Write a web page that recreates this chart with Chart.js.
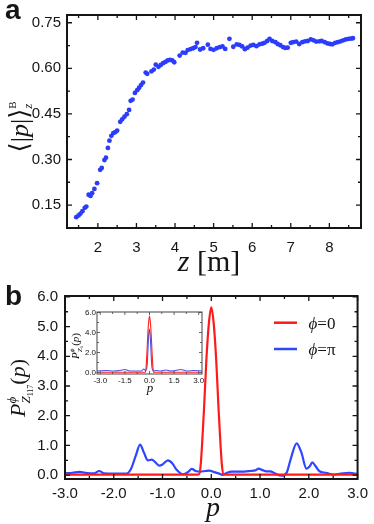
<!DOCTYPE html>
<html>
<head>
<meta charset="utf-8">
<script src="https://cdn.jsdelivr.net/npm/chart.js@4.4.1/dist/chart.umd.min.js"></script>
<style>
  html, body { margin: 0; padding: 0; background: #fff; }
  #wrap { position: relative; width: 374px; height: 524px; overflow: hidden; }
  canvas { position: absolute; }
</style>
</head>
<body>
<div id="wrap">
  <canvas id="chartA" width="374" height="290" style="left:0;top:0"></canvas>
  <canvas id="chartB" width="374" height="254" style="left:0;top:270px"></canvas>
  <canvas id="chartInset" width="150" height="100" style="left:60px;top:300px"></canvas>
</div>
<script>
// panel a : <|p|>_z^B against z [m]
const zA = [1.44, 1.50, 1.55, 1.60, 1.66, 1.70, 1.76, 1.81, 1.85, 1.91,
            1.98, 2.06, 2.10, 2.17, 2.21, 2.26, 2.30, 2.35, 2.40, 2.45,
            2.50, 2.58, 2.63, 2.69, 2.75, 2.81, 2.85, 2.90, 2.96, 3.02,
            3.07, 3.12, 3.17, 3.24, 3.28, 3.39, 3.45, 3.50, 3.57, 3.63,
            3.69, 3.75, 3.81, 3.87, 3.93, 3.98, 4.12, 4.20, 4.27, 4.33,
            4.40, 4.47, 4.53, 4.57, 4.65, 4.73, 4.85, 4.92, 5.00, 5.08,
            5.16, 5.23, 5.30, 5.41, 5.51, 5.60, 5.67, 5.74, 5.81, 5.88,
            5.96, 6.03, 6.11, 6.19, 6.26, 6.32, 6.39, 6.45, 6.52, 6.60,
            6.66, 6.73, 6.80, 6.86, 6.92, 7.00, 7.06, 7.14, 7.22, 7.30,
            7.37, 7.44, 7.52, 7.59, 7.66, 7.74, 7.80, 7.88, 7.95, 8.02,
            8.08, 8.15, 8.22, 8.29, 8.36, 8.43, 8.50, 8.56, 8.61];
const pA = [0.110, 0.116, 0.122, 0.130, 0.141, 0.145, 0.184, 0.180, 0.189, 0.203,
            0.222, 0.266, 0.272, 0.298, 0.306, 0.338, 0.362, 0.378, 0.387, 0.390,
            0.395, 0.424, 0.432, 0.441, 0.449, 0.463, 0.493, 0.497, 0.519, 0.528,
            0.536, 0.545, 0.553, 0.586, 0.582, 0.590, 0.596, 0.612, 0.605, 0.611,
            0.617, 0.621, 0.626, 0.628, 0.626, 0.620, 0.642, 0.652, 0.651, 0.660,
            0.663, 0.666, 0.670, 0.684, 0.662, 0.666, 0.678, 0.664, 0.661, 0.666,
            0.670, 0.672, 0.664, 0.697, 0.671, 0.679, 0.677, 0.672, 0.663, 0.668,
            0.675, 0.677, 0.673, 0.679, 0.681, 0.684, 0.690, 0.697, 0.690, 0.686,
            0.680, 0.676, 0.670, 0.667, 0.668, 0.684, 0.686, 0.688, 0.680, 0.686,
            0.689, 0.690, 0.695, 0.692, 0.688, 0.689, 0.690, 0.686, 0.682, 0.680,
            0.679, 0.684, 0.686, 0.689, 0.692, 0.695, 0.697, 0.698, 0.699];
const zTicks = [2, 3, 4, 5, 6, 7, 8];
const zMinor = [1.5, 2.5, 3.5, 4.5, 5.5, 6.5, 7.5, 8.5];
const pTicksA = [0.15, 0.30, 0.45, 0.60, 0.75];
const pMinorA = [0.225, 0.375, 0.525, 0.675];

// panel b : P(p) for phi = 0 (red) and phi = pi (blue)
const pRed = [-3.0, -0.3, -0.25, -0.22, -0.19, -0.15, -0.1, -0.05, 0, 0.05, 0.1, 0.15, 0.19, 0.22, 0.25, 0.3, 3.0];
const red  = [0.02, 0.02, 0.03, 0.3, 1.0, 2.2, 3.9, 5.1, 5.65, 5.1, 3.9, 2.2, 1.0, 0.3, 0.03, 0.02, 0.02];
const pBlue = [-3.0, -2.85, -2.7, -2.55, -2.4, -2.3, -2.2, -2.0, -1.75, -1.65,
               -1.55, -1.46, -1.38, -1.3, -1.22, -1.15, -1.07, -1.0, -0.89, -0.8,
               -0.72, -0.58, -0.48, -0.4, -0.32, -0.22, -0.12, -0.04, 0.06, 0.15,
               0.23, 0.32, 0.42, 0.55, 0.68, 0.8, 0.9, 0.97, 1.05, 1.13,
               1.21, 1.3, 1.44, 1.55, 1.63, 1.75, 1.85, 1.95, 2.02, 2.07,
               2.14, 2.22, 2.35, 2.5, 2.65, 2.82, 2.92, 3.0];
const blue = [0.06, 0.08, 0.11, 0.07, 0.06, 0.14, 0.06, 0.05, 0.05, 0.2,
              0.65, 1.03, 0.75, 0.5, 0.52, 0.44, 0.32, 0.36, 0.5, 0.4,
              0.2, 0.03, 0.1, 0.21, 0.14, 0.12, 0.14, 0.15, 0.1, 0.06,
              0.01, 0.08, 0.12, 0.12, 0.12, 0.14, 0.16, 0.22, 0.17, 0.13,
              0.13, 0.06, -0.02, 0.1, 0.55, 1.07, 0.75, 0.22, 0.3, 0.43,
              0.3, 0.13, 0.08, 0.02, 0.05, 0.08, 0.06, 0.04];
const pTicksB = [-3, -2, -1, 0, 1, 2, 3];
const pMinorB = [-2.5, -1.5, -0.5, 0.5, 1.5, 2.5];
const probTicks = [0, 1, 2, 3, 4, 5, 6];
const probMinor = [0.5, 1.5, 2.5, 3.5, 4.5, 5.5];

// inset (red curve is the same as the main one)
const pInset = [-3.2, -2.6, -2.2, -1.8, -1.5, -1.2, -0.8, -0.5, -0.35, -0.25, -0.15, -0.1, -0.05, 0.0,
                0.05, 0.1, 0.15, 0.25, 0.4, 0.7, 1.0, 1.3, 1.6, 1.9, 2.3, 2.7, 3.2];
const insetBlue = [0.15, 0.2, 0.15, 0.2, 0.3, 0.15, 0.15, 0.15, 0.35, 0.2, 0.6, 2.0, 3.8, 4.35,
                   3.5, 1.8, 0.5, 0.15, 0.2, 0.15, 0.25, 0.15, 0.2, 0.3, 0.15, 0.2, 0.15];
const insetXTicks = [-3, -1.5, 0, 1.5, 3];
const insetXMinor = [-2.25, -0.75, 0.75, 2.25];
const insetYTicks = [0, 2, 4, 6];
const insetYMinor = [1, 3, 5];

const SANS = '"Liberation Sans", Arial, Helvetica, sans-serif';
const SERIF = '"Liberation Serif", "Times New Roman", "DejaVu Serif", serif';
const INK = '#151515';
const PHI = '\u03D5';

Chart.defaults.animation = false;
Chart.defaults.devicePixelRatio = 1;
Chart.defaults.plugins.legend.display = false;
Chart.defaults.plugins.tooltip.enabled = false;

const pts = (xs, ys) => xs.map((x, i) => ({ x: x, y: ys[i] }));

// inward ticks on all four sides + box
function makeFrame(cfg) {
  return {
    id: 'frame',
    afterDatasetsDraw(chart) {
      const { ctx, chartArea: a } = chart;
      const sx = chart.scales.x, sy = chart.scales.y;
      ctx.save();
      ctx.strokeStyle = cfg.color || INK;
      ctx.lineWidth = cfg.tickWidth;
      ctx.beginPath();
      const tx = (vals, len) => vals.forEach(v => {
        const px = sx.getPixelForValue(v);
        ctx.moveTo(px, a.bottom); ctx.lineTo(px, a.bottom - len);
        ctx.moveTo(px, a.top); ctx.lineTo(px, a.top + len);
      });
      const ty = (vals, len) => vals.forEach(v => {
        const py = sy.getPixelForValue(v);
        ctx.moveTo(a.left, py); ctx.lineTo(a.left + len, py);
        ctx.moveTo(a.right, py); ctx.lineTo(a.right - len, py);
      });
      tx(cfg.xMajor, cfg.major); tx(cfg.xMinor, cfg.minor);
      ty(cfg.yMajor, cfg.major); ty(cfg.yMinor, cfg.minor);
      ctx.stroke();
      ctx.lineWidth = cfg.lineWidth;
      ctx.strokeRect(a.left, a.top, a.right - a.left, a.bottom - a.top);
      ctx.restore();
    }
  };
}

// text made of pieces with their own font and baseline shift
function rich(ctx, x, y, parts, rot) {
  ctx.save();
  ctx.translate(x, y);
  if (rot) ctx.rotate(-Math.PI / 2);
  ctx.textBaseline = 'alphabetic';
  ctx.textAlign = 'left';
  ctx.fillStyle = INK;
  let w = 0;
  parts.forEach(p => { ctx.font = p.f; p.w = ctx.measureText(p.t).width; w += (p.adv === undefined ? p.w : p.adv); });
  let cx = -w / 2;
  parts.forEach(p => {
    ctx.font = p.f;
    ctx.fillText(p.t, cx, -(p.dy || 0));
    cx += (p.adv === undefined ? p.w : p.adv);
  });
  ctx.restore();
}

function axis(min, max, ticks, fmt, font, pad, fit) {
  return {
    type: 'linear', min: min, max: max,
    grid: { display: false, drawTicks: false },
    border: { display: false },
    ticks: { font: font, color: INK, padding: pad, callback: fmt },
    afterBuildTicks: s => { s.ticks = ticks.map(v => ({ value: v })); },
    afterFit: fit
  };
}

// ---------- panel a ----------
new Chart(document.getElementById('chartA'), {
  type: 'scatter',
  data: {
    datasets: [{
      data: pts(zA, pA),
      pointRadius: 2.4,
      pointBackgroundColor: '#2b3cfb',
      pointBorderWidth: 0
    }]
  },
  options: {
    responsive: false,
    layout: { padding: { top: 7, right: 13, left: 0, bottom: 0 } },
    scales: {
      x: axis(1.2, 8.82, zTicks, v => String(v), { family: SANS, size: 15 }, 11, s => { s.height = 62; }),
      y: axis(0.0745, 0.7755, pTicksA, v => v.toFixed(2), { family: SANS, size: 15 }, 6, s => { s.width = 67; })
    }
  },
  plugins: [
    makeFrame({ xMajor: zTicks, xMinor: zMinor, yMajor: pTicksA, yMinor: pMinorA, major: 5, minor: 3, tickWidth: 1.3, lineWidth: 2 }),
    {
      id: 'labelsA',
      afterDraw(chart) {
        const ctx = chart.ctx;
        ctx.save();
        ctx.fillStyle = INK;
        ctx.font = 'bold 28px ' + SANS;
        ctx.fillText('a', 5, 19);
        ctx.restore();
        rich(ctx, 28, 128, [
          { t: '\u27E8|', f: '26px ' + SERIF },
          { t: 'p', f: 'italic 26px ' + SERIF },
          { t: '|\u27E9', f: '26px ' + SERIF },
          { t: 'B', f: '11px ' + SERIF, dy: 12, adv: 0 },
          { t: 'z', f: 'italic 13px ' + SERIF, dy: -4 }
        ], true);
        rich(ctx, 209, 271, [
          { t: 'z', f: 'italic 30px ' + SERIF },
          { t: ' [m]', f: '30px ' + SERIF }
        ], false);
      }
    }
  ]
});

// ---------- panel b ----------
new Chart(document.getElementById('chartB'), {
  type: 'line',
  data: {
    datasets: [
      { data: pts(pRed, red), borderColor: '#ff1a1a', borderWidth: 2.2, pointRadius: 0, cubicInterpolationMode: 'monotone' },
      { data: pts(pBlue, blue), borderColor: '#2d46ff', borderWidth: 2.2, pointRadius: 0, cubicInterpolationMode: 'monotone' }
    ]
  },
  options: {
    responsive: false,
    layout: { padding: { top: 26, right: 12, left: 0, bottom: 0 } },
    scales: {
      x: axis(-3, 3, pTicksB, v => v.toFixed(1), { family: SANS, size: 15 }, 6, s => { s.height = 45; }),
      y: axis(-0.13, 6.03, probTicks, v => v.toFixed(1), { family: SANS, size: 15 }, 7, s => { s.width = 65; })
    }
  },
  plugins: [
    makeFrame({ xMajor: pTicksB, xMinor: pMinorB, yMajor: probTicks, yMinor: probMinor, major: 5, minor: 3, tickWidth: 1.3, lineWidth: 2 }),
    {
      id: 'labelsB',
      afterDraw(chart) {
        const ctx = chart.ctx;
        ctx.save();
        ctx.fillStyle = INK;
        ctx.font = 'bold 28px ' + SANS;
        ctx.fillText('b', 5, 35);
        // legend
        ctx.lineWidth = 2.5;
        ctx.strokeStyle = '#ff1a1a';
        ctx.beginPath(); ctx.moveTo(274, 52.7); ctx.lineTo(297, 52.7); ctx.stroke();
        ctx.strokeStyle = '#2d46ff';
        ctx.beginPath(); ctx.moveTo(274, 79); ctx.lineTo(297, 79); ctx.stroke();
        ctx.restore();
        rich(ctx, 322, 58.5, [{ t: PHI, f: 'italic 17px ' + SERIF }, { t: '=0', f: '17px ' + SERIF }], false);
        rich(ctx, 322, 85, [{ t: PHI, f: 'italic 17px ' + SERIF }, { t: '=\u03C0', f: '17px ' + SERIF }], false);
        // axis titles
        rich(ctx, 25, 118, [
          { t: 'P', f: 'italic 22px ' + SERIF },
          { t: PHI, f: 'italic 13px ' + SERIF, dy: 9, adv: 0 },
          { t: 'Z', f: 'italic 13px ' + SERIF, dy: -5 },
          { t: '117', f: '8px ' + SERIF, dy: -8 },
          { t: '(', f: '22px ' + SERIF },
          { t: 'p', f: 'italic 22px ' + SERIF },
          { t: ')', f: '22px ' + SERIF }
        ], true);
        rich(ctx, 213, 246, [{ t: 'p', f: 'italic 28px ' + SERIF }], false);
      }
    }
  ]
});

// ---------- inset ----------
new Chart(document.getElementById('chartInset'), {
  type: 'line',
  data: {
    datasets: [
      { data: pts(pRed, red), borderColor: '#ff2020', borderWidth: 1.1, pointRadius: 0, cubicInterpolationMode: 'monotone' },
      { data: pts(pInset, insetBlue), borderColor: 'rgba(50,50,225,0.85)', borderWidth: 1.1, pointRadius: 0, cubicInterpolationMode: 'monotone' }
    ]
  },
  options: {
    responsive: false,
    layout: { padding: { top: 12, right: 8, left: 0, bottom: 0 } },
    scales: {
      x: axis(-3.2, 3.2, insetXTicks, v => v.toFixed(1), { family: SANS, size: 8 }, 2, s => { s.height = 26; }),
      y: axis(-0.15, 6.05, insetYTicks, v => v.toFixed(1), { family: SANS, size: 8 }, 1, s => { s.width = 37; })
    }
  },
  plugins: [
    {
      id: 'insetBg',
      beforeDraw(chart) {
        const { ctx, chartArea: a } = chart;
        ctx.save();
        ctx.fillStyle = '#fff';
        ctx.fillRect(a.left, a.top, a.right - a.left, a.bottom - a.top);
        ctx.restore();
      }
    },
    makeFrame({ xMajor: insetXTicks, xMinor: insetXMinor, yMajor: insetYTicks, yMinor: insetYMinor, major: 3, minor: 2, tickWidth: 0.8, lineWidth: 1, color: '#444' }),
    {
      id: 'labelsInset',
      afterDraw(chart) {
        const ctx = chart.ctx;
        rich(ctx, 19, 46, [
          { t: 'P', f: 'italic 11px ' + SERIF },
          { t: PHI, f: 'italic 7px ' + SERIF, dy: 5, adv: 0 },
          { t: 'Z', f: 'italic 7px ' + SERIF, dy: -3 },
          { t: '1', f: '5px ' + SERIF, dy: -4 },
          { t: '(', f: '11px ' + SERIF },
          { t: 'p', f: 'italic 11px ' + SERIF },
          { t: ')', f: '11px ' + SERIF }
        ], true);
        rich(ctx, 90, 92, [{ t: 'p', f: 'italic 13px ' + SERIF }], false);
      }
    }
  ]
});
</script>
</body>
</html>
